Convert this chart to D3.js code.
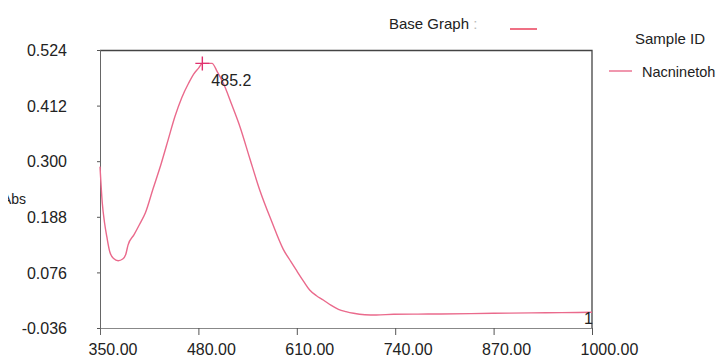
<!DOCTYPE html>
<meta charset="utf-8">
<style>

body {
  margin: 0;
  background: #fff;
}

text {
  font-family: "Liberation Sans", Arial, sans-serif;
  fill: #222;
}

.tick text {
  font-size: 16px;
}

</style>
<svg width="724" height="358"></svg>
<script src="https://d3js.org/d3.v7.min.js"></script>
<script>

// spectrum (nm, abs)
var wavelength = [350, 353, 356, 359, 363, 368, 374, 380, 384, 387, 395, 402, 410, 420, 431, 440, 449, 458, 467, 474, 480, 485.2, 492, 498, 505, 513, 524, 535, 548, 561, 577, 592, 602, 610, 619, 627, 636, 645, 655, 665, 675, 685, 700, 715, 738, 770, 800, 840, 870, 920, 960, 1000];
var absorbance = [0.289, 0.216, 0.176, 0.148, 0.117, 0.104, 0.0996, 0.103, 0.112, 0.131, 0.152, 0.172, 0.196, 0.244, 0.296, 0.343, 0.390, 0.428, 0.457, 0.476, 0.487, 0.497, 0.497, 0.497, 0.480, 0.457, 0.414, 0.369, 0.305, 0.242, 0.178, 0.123, 0.098, 0.079, 0.058, 0.0405, 0.029, 0.0204, 0.010, 0.0017, -0.003, -0.0064, -0.0092, -0.0098, -0.0084, -0.0080, -0.0078, -0.0070, -0.0064, -0.0055, -0.0050, -0.0044];

var xTicks = [350, 480, 610, 740, 870, 1000];
var yTicks = [-0.036, 0.076, 0.188, 0.300, 0.412, 0.524];

var peak = {x: 485.2, y: 0.497, label: "485.2"};

var sampleNames = ["Nacninetoh"];

var svg = d3.select("svg"),
    margin = {top: 50, right: 132, bottom: 30, left: 100},
    width = 724 - margin.left - margin.right,
    height = 358 - margin.top - margin.bottom,
    g = svg.append("g").attr("transform", "translate(" + margin.left + "," + margin.top + ")");

var x = d3.scaleLinear().domain([350, 1000]).range([0, width]);
var y = d3.scaleLinear().domain([-0.036, 0.524]).range([height, 0]);

var lineColor = "#ea6a8c";

// frame: top and right
g.append("path")
    .attr("d", "M0,0.5H" + width + "V" + height)
    .attr("fill", "none")
    .attr("stroke", "#444")
    .attr("stroke-width", 1.3);

// x axis
var xAxis = g.append("g")
    .attr("transform", "translate(0," + height + ")")
    .call(d3.axisBottom(x).tickValues(xTicks).tickSize(7).tickSizeOuter(0)
      .tickFormat(d3.format(".2f")));
xAxis.select(".domain").attr("stroke", "#888");
xAxis.selectAll(".tick line").attr("stroke", "#555");
xAxis.selectAll(".tick text")
    .attr("text-anchor", "start")
    .attr("x", -12)
    .attr("y", 0)
    .attr("dy", 0)
    .attr("transform", "translate(0,27)")
    .attr("fill", "#222");

// y axis
var yAxis = g.append("g")
    .call(d3.axisLeft(y).tickValues(yTicks).tickSize(3).tickSizeOuter(0)
      .tickFormat(d3.format(".3f")));
yAxis.select(".domain").attr("stroke", "#666").attr("d", "M0.5,0V" + (height + 7));
yAxis.selectAll(".tick line").attr("stroke", "#555");
yAxis.selectAll(".tick text")
    .attr("x", -33)
    .attr("dy", "0.36em")
    .attr("fill", "#222")
    .text(function(d) { return d3.format(".3f")(d).replace("−", "-"); });

// y label, partly cut at left edge as in the picture
svg.append("clipPath").attr("id", "cut")
  .append("rect").attr("x", 8).attr("y", 180).attr("width", 40).attr("height", 40);
svg.append("text")
    .attr("clip-path", "url(#cut)")
    .attr("x", 2)
    .attr("y", 204)
    .style("font-size", "14px")
    .text("Abs");

// spectrum
var line = d3.line()
    .x(function(d, i) { return x(wavelength[i]); })
    .y(function(d) { return y(d); })
    .curve(d3.curveMonotoneX);

g.append("path")
    .datum(absorbance)
    .attr("fill", "none")
    .attr("stroke", lineColor)
    .attr("stroke-width", 1.4)
    .attr("d", line);

// peak marker
var px = x(peak.x), py = y(peak.y);
g.append("path")
    .attr("d", "M" + (px - 7) + "," + py + "H" + (px + 7) + "M" + px + "," + (py - 7) + "V" + (py + 7))
    .attr("stroke", "#e0306e")
    .attr("stroke-width", 1.4);
g.append("text")
    .attr("x", px + 9)
    .attr("y", py + 23)
    .style("font-size", "16px")
    .text(peak.label);

// curve id at end
g.append("text")
    .attr("x", x(1000) - 8)
    .attr("y", y(absorbance[absorbance.length - 1]) + 12)
    .style("font-size", "16px")
    .attr("fill", "#444")
    .text("1");

// base graph header
svg.append("text")
    .attr("x", 389)
    .attr("y", 28.5)
    .style("font-size", "15px")
    .text("Base Graph")
  .append("tspan")
    .attr("fill", "#bbb")
    .text(" :");
svg.append("line")
    .attr("x1", 510).attr("x2", 537)
    .attr("y1", 29).attr("y2", 29)
    .attr("stroke", "#e8334f")
    .attr("stroke-width", 1.4);

// legend
svg.append("text")
    .attr("x", 635)
    .attr("y", 44)
    .style("font-size", "15px")
    .text("Sample ID");

var legend = svg.selectAll(".legend")
    .data(sampleNames)
  .enter().append("g")
    .attr("class", "legend")
    .attr("transform", function(d, i) { return "translate(609," + (71 + i * 20) + ")"; });
legend.append("line")
    .attr("x1", 0).attr("x2", 23)
    .attr("stroke", lineColor)
    .attr("stroke-width", 1.4);
legend.append("text")
    .attr("x", 33)
    .attr("y", 5.5)
    .style("font-size", "14.5px")
    .text(function(d) { return d; });

</script>
